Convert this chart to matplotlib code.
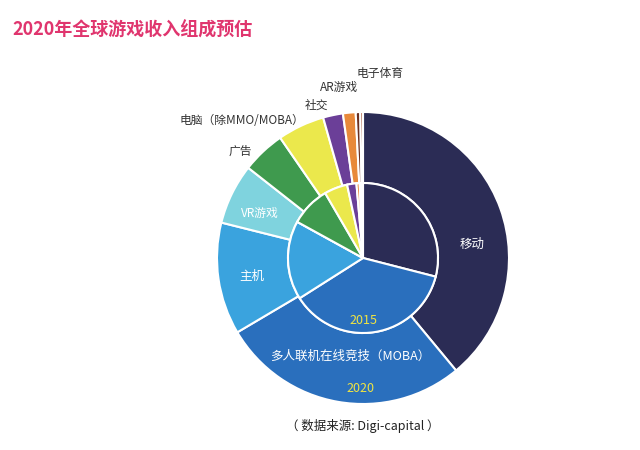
import matplotlib.pyplot as plt

plt.rcParams['font.family'] = ['Noto Sans CJK SC', 'DejaVu Sans']

categories = ['移动', '多人联机在线竞技（MOBA）', '主机', 'VR游戏', '广告',
              '电脑（除MMO/MOBA）', '社交', 'AR游戏', '电子体育', '其他']
share_2020 = [39.0, 27.5, 12.4, 6.7, 4.8, 5.2, 2.2, 1.4, 0.5, 0.3]
share_2015 = [29.0, 37.0, 17.0, 0.0, 8.6, 5.0, 2.0, 0.7, 0.4, 0.3]
colors = ['#2b2c55', '#2a6fbd', '#3aa3de', '#7fd3de', '#3f9a4e',
          '#ebe84c', '#6b3f98', '#e8893a', '#6b2f1f', '#a04a2a']

fig = plt.figure(figsize=(6.4, 4.5), dpi=100)
ax = fig.add_axes([0, 0, 1, 1])

H = 450
cx, cy = 363, H - 258
ax.pie(share_2020, colors=colors, radius=146, center=(cx, cy), startangle=90,
       counterclock=False, wedgeprops=dict(width=71, edgecolor='white', linewidth=1.5))
ax.pie(share_2015, colors=colors, radius=75, center=(cx, cy), startangle=90,
       counterclock=False, wedgeprops=dict(edgecolor='white', linewidth=1.5))

ax.set_xlim(0, 640)
ax.set_ylim(0, H)
ax.set_aspect('equal')
ax.axis('off')


def label(x, y, s, color='#333333', size=8.5):
    ax.text(x, H - y, s, color=color, fontsize=size, ha='center', va='center')


# labels inside the ring
label(472, 244, '移动', 'white', 9)
label(252, 276, '主机', 'white', 9)
label(260, 214, 'VR游戏', 'white')
label(350, 356, '多人联机在线竞技（MOBA）', 'white', 9)
label(360, 389, '2020', '#f0e442', 9)
label(363, 320, '2015', '#f0e442', 9)

# labels outside the ring
label(240, 151, '广告')
label(242, 121, '电脑（除MMO/MOBA）')
label(316, 105, '社交')
label(339, 87, 'AR游戏')
label(380, 73, '电子体育')

fig.text(12 / 640, 1 - 30 / 450, '2020年全球游戏收入组成预估', color='#e0356e',
         fontsize=13, fontweight='bold', va='center')
label(363, 426, '（ 数据来源: Digi-capital ）', '#222222', 9)

fig.savefig('out.png', dpi=100)
